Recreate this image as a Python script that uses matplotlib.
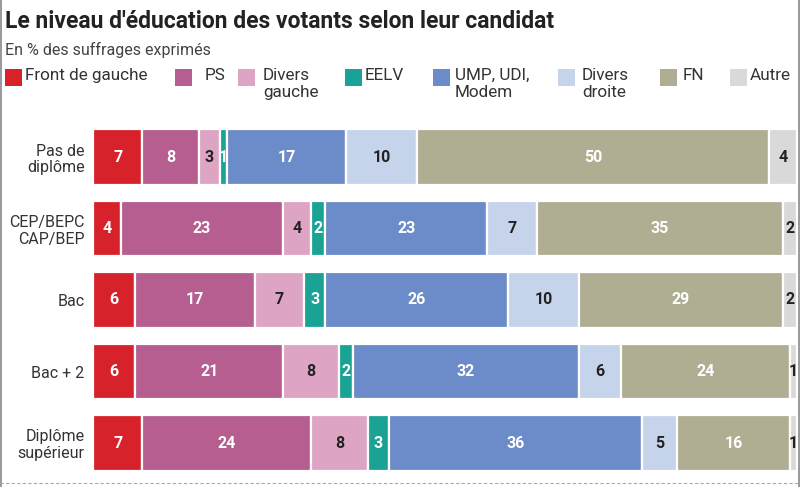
import matplotlib
matplotlib.use("Agg")
import matplotlib.pyplot as plt
from matplotlib.patches import Rectangle
from matplotlib.lines import Line2D

plt.rcParams['font.family'] = ['Roboto', 'DejaVu Sans']

categories = ["Pas de\ndiplôme", "CEP/BEPC\nCAP/BEP", "Bac", "Bac + 2", "Diplôme\nsupérieur"]
parties = ["Front de gauche", "PS", "Divers\ngauche", "EELV", "UMP, UDI,\nModem",
           "Divers\ndroite", "FN", "Autre"]
front_gauche = [7, 4, 6, 6, 7]
ps = [8, 23, 17, 21, 24]
divers_gauche = [3, 4, 7, 8, 8]
eelv = [1, 2, 3, 2, 3]
ump = [17, 23, 26, 32, 36]
divers_droite = [10, 7, 10, 6, 5]
fn = [50, 35, 29, 24, 16]
autre = [4, 2, 2, 1, 1]
series = [front_gauche, ps, divers_gauche, eelv, ump, divers_droite, fn, autre]

colors = ["#d7222c", "#b55e8f", "#dda4c4", "#1aa394", "#6b8bc9", "#c6d4eb", "#b0ae92", "#d9d9d9"]
text_colors = ["white", "white", "#222222", "white", "white", "#222222", "white", "#222222"]

W, H = 800, 487
fig = plt.figure(figsize=(W / 100, H / 100), dpi=100)
fig.patch.set_facecolor("white")

ax = fig.add_axes([93 / W, 1 - 478.75 / H, (797 - 93) / W, (478.75 - 121.25) / H])
ypos = list(range(len(categories)))
left = [0] * len(categories)
for s, vals in enumerate(series):
    ax.barh(ypos, vals, left=left, height=0.78, color=colors[s],
            edgecolor="white", linewidth=1.6)
    for i, v in enumerate(vals):
        ax.text(left[i] + v / 2, ypos[i], str(v), ha="center", va="center",
                fontsize=11.5, fontweight="bold", color=text_colors[s], clip_on=False)
    left = [l + v for l, v in zip(left, vals)]

ax.set_xlim(0, 100)
ax.set_ylim(len(categories) - 0.5, -0.5)
ax.set_yticks(ypos)
ax.set_yticklabels(categories, fontsize=11.5, color="#333333", linespacing=1.15)
ax.tick_params(axis="y", length=0, pad=6)
ax.set_xticks([])
for sp in ax.spines.values():
    sp.set_visible(False)

# Title and subtitle
fig.text(5 / W, 1 - 22 / H, "Le niveau d'éducation des votants selon leur candidat",
         fontsize=16.5, fontweight="bold", color="#222222", va="center", ha="left")
fig.text(5 / W, 1 - 50 / H, "En % des suffrages exprimés",
         fontsize=11.5, color="#444444", va="center", ha="left")

# Legend
sq_x = [5, 175, 238, 345, 433, 558, 660, 730]
txt_x = [25, 205, 263, 365, 455, 582, 683, 750]
for k, lab in enumerate(parties):
    fig.patches.append(Rectangle((sq_x[k] / W, 1 - 86 / H), 17 / W, 17 / H,
                                 transform=fig.transFigure, facecolor=colors[k],
                                 edgecolor="none"))
    fig.text(txt_x[k] / W, 1 - 68 / H, lab, fontsize=12.3, color="#333333",
             va="top", ha="left", linespacing=1.2)

# Frame lines
fig.add_artist(Line2D([1 / W, 1 / W], [0, 1], transform=fig.transFigure, color="#888888", lw=1.2))
fig.add_artist(Line2D([1 - 1 / W, 1 - 1 / W], [0, 1], transform=fig.transFigure, color="#888888", lw=1.2))
fig.add_artist(Line2D([0, 1], [1 - 483 / H, 1 - 483 / H], transform=fig.transFigure,
                      color="#aaaaaa", lw=0.8, ls=(0, (3, 2))))

fig.savefig("out.png", dpi=100)
